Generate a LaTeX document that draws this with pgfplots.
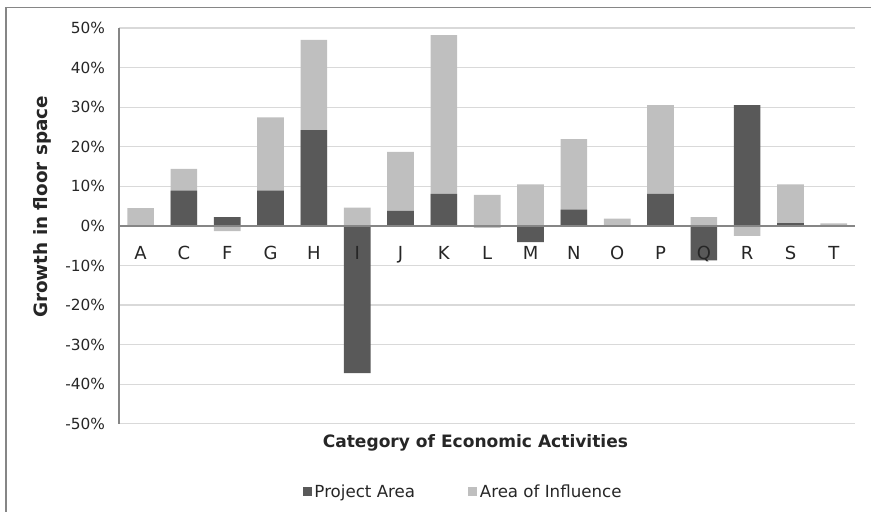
\documentclass[border=0pt]{standalone}
\usepackage{fontspec}
\setmainfont{DejaVu Sans}
\usepackage{pgfplots}
\pgfplotsset{compat=1.18}
\pgfplotsset{
  layers/labelsontop/.define layer set={axis background,axis grid,main,axis ticks,axis lines,axis tick labels,axis descriptions,axis foreground}{
    grid style={/pgfplots/on layer=axis grid},
    tick style={/pgfplots/on layer=axis ticks},
    axis line style={/pgfplots/on layer=axis lines},
    label style={/pgfplots/on layer=axis descriptions},
    legend style={/pgfplots/on layer=axis descriptions},
    title style={/pgfplots/on layer=axis descriptions},
    colorbar style={/pgfplots/on layer=axis descriptions},
    ticklabel style={/pgfplots/on layer=axis tick labels},
    axis background@ style={/pgfplots/on layer=axis background},
    3d box foreground style={/pgfplots/on layer=axis foreground},
  },
}
\definecolor{darkbar}{HTML}{595959}
\definecolor{lightbar}{HTML}{BFBFBF}
\definecolor{gridc}{HTML}{D9D9D9}
\definecolor{axisgray}{HTML}{868686}
\begin{document}
\begin{tikzpicture}
\path (0,0) rectangle (654pt,-384pt);
\draw[axisgray, line width=0.8pt] (4.5pt,-384pt) -- (4.5pt,-5.6pt) -- (654pt,-5.6pt);
\begin{axis}[
  set layers=labelsontop,
  at={(89.25pt,-318pt)}, anchor=south west,
  scale only axis, width=552.75pt, height=297pt,
  xmin=-0.5, xmax=16.5, ymin=-50, ymax=50,
  axis x line=middle, axis y line=left,
  x axis line style={axisgray, line width=1.2pt, -},
  y axis line style={axisgray, line width=1.2pt, -},
  ymajorgrids, grid style={gridc, line width=0.8pt},
  major tick length=0pt,
  xtick={0,...,16},
  xticklabels={A,C,F,G,H,I,J,K,L,M,N,O,P,Q,R,S,T},
  xticklabel style={font=\fontsize{13.5}{16}\selectfont, anchor=base, yshift=-25.5pt, text=black!85},
  ytick={-50,-40,...,50},
  yticklabel={\pgfmathprintnumber{\tick}\%},
  /pgf/number format/assume math mode=true,
  yticklabel style={font=\fontsize{11.5}{13}\selectfont, anchor=east, xshift=-7pt, text=black!85},
  xlabel={\textbf{Category of Economic Activities}},
  xlabel style={at={(axis description cs:0.484,-0.048)}, anchor=center, font=\fontsize{12.8}{15}\selectfont, text=black!85},
  ylabel={\textbf{Growth in floor space}},
  ylabel style={at={(axis description cs:-0.104,0.548)}, anchor=center, rotate=0, font=\fontsize{13.8}{16}\selectfont, text=black!85},
  ybar, bar width=20pt, bar shift=0pt,
  legend style={at={(axis description cs:0.468,-0.172)}, anchor=center, draw=none, fill=none,
    legend columns=2, font=\fontsize{12.5}{14}\selectfont, text=black!85,
    /tikz/every even column/.append style={column sep=38pt}},
  legend image code/.code={\fill[#1] (0pt,-3.3pt) rectangle (6.6pt,3.3pt);},
  clip=false,
]
\addlegendimage{fill=darkbar, draw=none}
\addlegendentry{Project Area}
\addlegendimage{fill=lightbar, draw=none}
\addlegendentry{Area of Influence}
% Area of Influence (visible extent of stacked bar)
\addplot[fill=lightbar, draw=none, forget plot] coordinates {
(0,4.5) (1,14.4) (2,-1.3) (3,27.4) (4,47.0) (5,4.6) (6,18.7) (7,48.2) (8,7.8)
(9,10.5) (10,21.9) (11,1.8) (12,30.5) (13,2.2) (14,-2.5) (15,10.5) (16,0.6)};
% Project Area
\addplot[fill=darkbar, draw=none, forget plot] coordinates {
(0,0) (1,8.9) (2,2.2) (3,8.9) (4,24.2) (5,-37.2) (6,3.8) (7,8.1) (8,-0.4)
(9,-4.1) (10,4.1) (11,0) (12,8.1) (13,-8.7) (14,30.5) (15,0.7) (16,0)};
\end{axis}
\end{tikzpicture}
\end{document}
